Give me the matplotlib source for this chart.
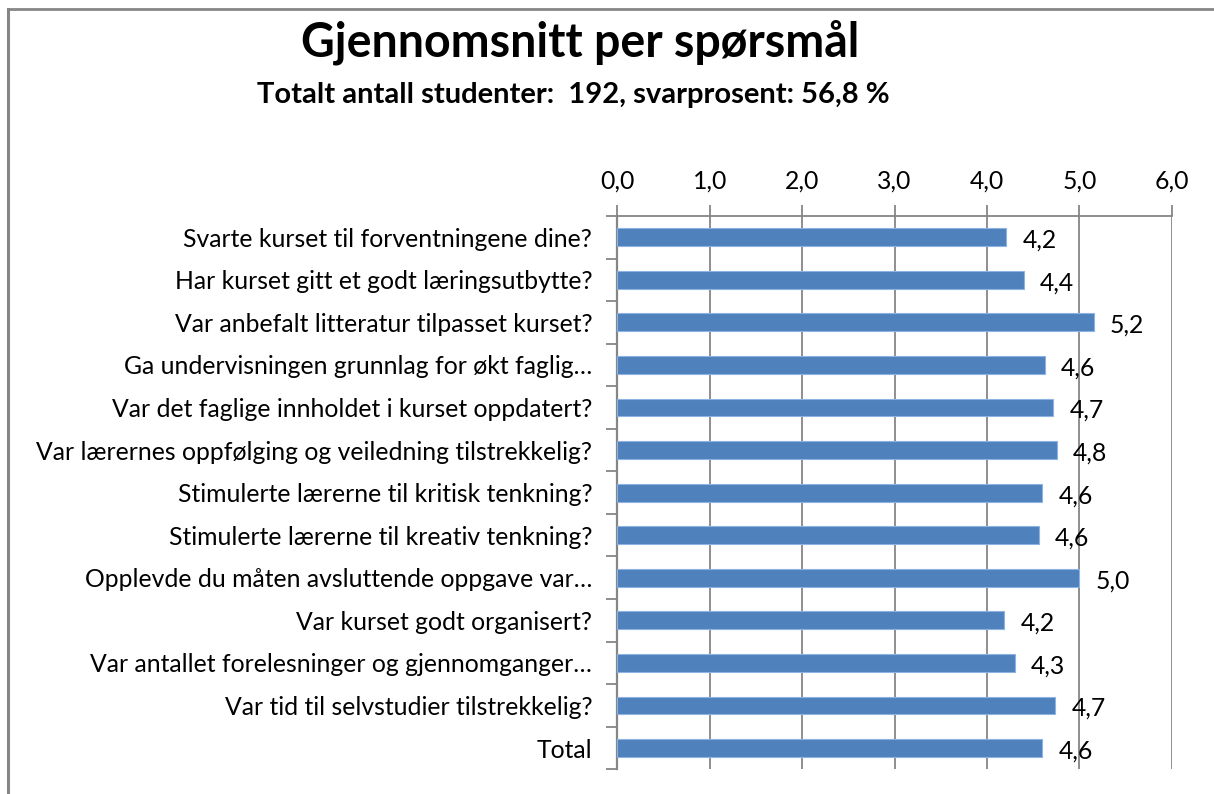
import matplotlib
matplotlib.use("Agg")
import matplotlib.pyplot as plt
from matplotlib.lines import Line2D

categories = [
    "Svarte kurset til forventningene dine?",
    "Har kurset gitt et godt læringsutbytte?",
    "Var anbefalt litteratur tilpasset kurset?",
    "Ga undervisningen grunnlag for økt faglig…",
    "Var det faglige innholdet i kurset oppdatert?",
    "Var lærernes oppfølging og veiledning tilstrekkelig?",
    "Stimulerte lærerne til kritisk tenkning?",
    "Stimulerte lærerne til kreativ tenkning?",
    "Opplevde du måten avsluttende oppgave var…",
    "Var kurset godt organisert?",
    "Var antallet forelesninger og gjennomganger…",
    "Var tid til selvstudier tilstrekkelig?",
    "Total",
]
values = [4.21, 4.40, 5.16, 4.63, 4.72, 4.76, 4.60, 4.56, 5.00, 4.19, 4.30, 4.74, 4.60]
x_ticks = [0, 1, 2, 3, 4, 5, 6]
x_tick_labels = ["0,0", "1,0", "2,0", "3,0", "4,0", "5,0", "6,0"]
title = "Gjennomsnitt per spørsmål"
subtitle = "Totalt antall studenter:  192, svarprosent: 56,8 %"

plt.rcParams['font.family'] = ['Lato', 'DejaVu Sans']

W, H = 1214, 794
fig = plt.figure(figsize=(W / 100, H / 100), dpi=100)
fig.patch.set_facecolor("white")

gray = "#868686"
fs = 17.8

# outer border (top and left)
fig.add_artist(Line2D([7.5 / W, 1.0], [1 - 8.5 / H, 1 - 8.5 / H], transform=fig.transFigure,
                      color=gray, lw=2.0))
fig.add_artist(Line2D([7.5 / W, 7.5 / W], [0.0, 1 - 8.5 / H], transform=fig.transFigure,
                      color=gray, lw=2.2))

left, right = 617.3 / W, 1171.7 / W
top, bottom = 216.0 / H, 769.3 / H
ax = fig.add_axes([left, 1 - bottom, right - left, bottom - top])

ypos = list(range(len(categories)))
ax.barh(ypos, values, height=0.42, color="#4F81BD", edgecolor="#8DB3E2", linewidth=0.8, zorder=3)

ax.set_xlim(0, 6)
ax.set_ylim(len(categories) - 0.5, -0.5)

ax.xaxis.tick_top()
ax.set_xticks(x_ticks)
ax.set_xticklabels(x_tick_labels, fontsize=fs)
ax.tick_params(axis="x", direction="out", length=8, width=1.3, color=gray, pad=9)
ax.grid(axis="x", color=gray, linewidth=1.3, zorder=0)

ax.set_yticks(ypos)
ax.set_yticklabels(categories, fontsize=fs)
ax.tick_params(axis="y", which="major", length=0, pad=18)
ax.set_yticks([i - 0.5 for i in range(len(categories) + 1)], minor=True)
ax.tick_params(axis="y", which="minor", direction="out", length=8, width=1.3, color=gray)

for s in ["right", "bottom"]:
    ax.spines[s].set_visible(False)
ax.spines["left"].set_color(gray)
ax.spines["left"].set_linewidth(1.6)
ax.spines["top"].set_color(gray)
ax.spines["top"].set_linewidth(1.3)

for y, v in zip(ypos, values):
    ax.annotate(f"{v:.1f}".replace(".", ","), xy=(v, y), xytext=(16, -3),
                textcoords="offset pixels", ha="left", va="center", fontsize=fs,
                clip_on=False, zorder=4)

fig.text(0.478, 1 - 42 / H, title, ha="center", va="center", fontsize=33.5, fontweight="bold")
fig.text(0.472, 1 - 95 / H, subtitle, ha="center", va="center", fontsize=21, fontweight="bold")

fig.savefig("out.png", dpi=100)
